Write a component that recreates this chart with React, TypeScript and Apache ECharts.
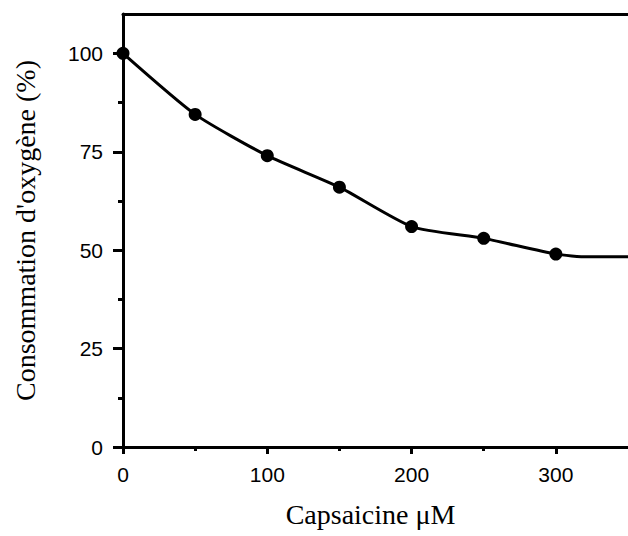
import React, { useEffect, useRef } from "react";
import * as echarts from "echarts";

// Measured points (capsaicine µM, % oxygen consumption)
const POINT_X = [0, 50, 100, 150, 200, 250, 300];
const POINT_Y = [100, 84.5, 74, 66, 56, 53, 49];

// Hand-drawn fitted curve (extends past the last point)
const CURVE_X = [0, 50, 100, 150, 200, 250, 300, 322, 350];
const CURVE_Y = [100, 84.5, 74, 66, 56, 53, 49, 48.3, 48.3];

const X_TICKS = [0, 100, 200, 300];
const X_MINOR = [50, 150, 250];
const Y_TICKS = [0, 25, 50, 75, 100];
const Y_MINOR = [12.5, 37.5, 62.5, 87.5];

const X_TITLE = "Capsaicine μM";
const Y_TITLE = "Consommation d'oxygène (%)";

export default function App() {
  const ref = useRef<HTMLDivElement>(null);

  useEffect(() => {
    if (!ref.current) return;
    const chart = echarts.init(ref.current, null, { renderer: "svg" });
    const black = "#000";
    const tickFont = { fontFamily: "Liberation Sans", fontSize: 21, color: black };
    const titleFont = { fontFamily: "Liberation Serif", fontSize: 28, color: black };

    chart.setOption({
      animation: false,
      backgroundColor: "#fff",
      grid: { left: 123, right: -4, top: 14, bottom: 89, containLabel: false },
      xAxis: [
        {
          type: "value",
          position: "bottom",
          min: 0,
          max: 350,
          interval: 100,
          axisLine: { show: true, lineStyle: { color: black, width: 3 } },
          axisTick: { show: true, customValues: X_TICKS, length: 7, lineStyle: { color: black, width: 3 } },
          axisLabel: { show: true, customValues: X_TICKS, margin: 17, ...tickFont },
          splitLine: { show: false },
          name: X_TITLE,
          nameLocation: "middle",
          nameGap: 53,
          nameTextStyle: { ...titleFont, padding: [0, 10, 0, 0] },
        },
        {
          type: "value",
          position: "bottom",
          min: 0,
          max: 350,
          axisLine: { show: false },
          axisTick: { show: true, customValues: X_MINOR, length: 4, lineStyle: { color: black, width: 3 } },
          axisLabel: { show: false },
          splitLine: { show: false },
        },
        {
          type: "value",
          position: "top",
          min: 0,
          max: 350,
          axisLine: { show: true, lineStyle: { color: black, width: 3 } },
          axisTick: { show: false },
          axisLabel: { show: false },
          splitLine: { show: false },
        },
      ],
      yAxis: [
        {
          type: "value",
          position: "left",
          min: 0,
          max: 110,
          interval: 25,
          axisLine: { show: true, lineStyle: { color: black, width: 3 } },
          axisTick: { show: true, customValues: Y_TICKS, length: 10, lineStyle: { color: black, width: 3 } },
          axisLabel: { show: true, customValues: Y_TICKS, margin: 20, ...tickFont },
          splitLine: { show: false },
          name: Y_TITLE,
          nameLocation: "middle",
          nameGap: 84,
          nameTextStyle: titleFont,
        },
        {
          type: "value",
          position: "left",
          min: 0,
          max: 110,
          axisLine: { show: false },
          axisTick: { show: true, customValues: Y_MINOR, length: 5, lineStyle: { color: black, width: 3 } },
          axisLabel: { show: false },
          splitLine: { show: false },
        },
      ],
      series: [
        {
          type: "line",
          xAxisIndex: 0,
          yAxisIndex: 0,
          data: CURVE_X.map((x, i) => [x, CURVE_Y[i]]),
          smooth: 0.2,
          showSymbol: false,
          symbol: "none",
          lineStyle: { color: black, width: 3 },
          z: 2,
        },
        {
          type: "scatter",
          xAxisIndex: 0,
          yAxisIndex: 0,
          data: POINT_X.map((x, i) => [x, POINT_Y[i]]),
          symbol: "circle",
          symbolSize: 13,
          itemStyle: { color: black, opacity: 1 },
          z: 3,
        },
      ],
    });

    return () => chart.dispose();
  }, []);

  return (
    <div
      ref={ref}
      style={{ position: "fixed", left: 0, top: 0, width: 628, height: 536, background: "#fff" }}
    />
  );
}
